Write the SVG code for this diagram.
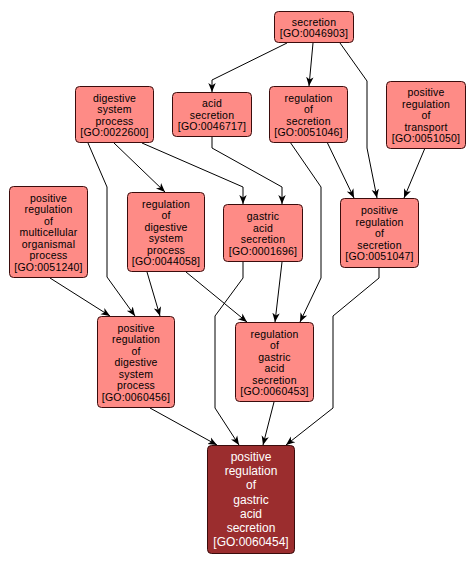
<svg xmlns="http://www.w3.org/2000/svg" width="474" height="566" viewBox="0 0 474 566">
<defs>
<marker id="arr" markerUnits="userSpaceOnUse" markerWidth="10" markerHeight="10" refX="9" refY="5" orient="auto">
<path d="M0,1.3 L9,5 L0,8.7 L2.5,5 z" fill="#000"/>
</marker>
<style>
.n rect{fill:#fe8b86;stroke:#3a0c0c;stroke-width:1}
.n text{font-family:"Liberation Sans",Arial,sans-serif;font-size:10.5px;fill:#000;text-anchor:middle;letter-spacing:0.2px}
.f rect{fill:#9b2d2e;stroke:#3a0c0c;stroke-width:1}
.f text{font-family:"Liberation Sans",Arial,sans-serif;font-size:12px;fill:#fff;text-anchor:middle}
#edges polyline{fill:none;stroke:#000;stroke-width:1;marker-end:url(#arr)}
</style>
</defs>
<rect width="474" height="566" fill="#fff"/>
<g id="edges">
<polyline points="287,43 212,80 212,92"/>
<polyline points="313,43 309,86"/>
<polyline points="340,43 367,81 367,148 377,198"/>
<polyline points="425,148 404,198"/>
<polyline points="327,142 354,198"/>
<polyline points="290,142 321,187 321,278 300,322"/>
<polyline points="212,136 212,148 282,187 282,204"/>
<polyline points="114,143 165,192"/>
<polyline points="142,143 243,187 243,204"/>
<polyline points="88,143 107,187 107,277 135,316"/>
<polyline points="50,278 110,316"/>
<polyline points="147,272 160,316"/>
<polyline points="186,272 247,322"/>
<polyline points="282,262 275,322"/>
<polyline points="243,262 243,278 215,316 215,408 239,445"/>
<polyline points="379,268 379,278 333,316 333,408 286,445"/>
<polyline points="274,402 263,445"/>
<polyline points="150,408 217,445"/>
</g>
<g id="GO0046903" class="n"><rect x="274.5" y="11.5" width="79" height="31" rx="4"/>
<text><tspan x="314" y="25.5">secretion</tspan><tspan x="314" y="37">[GO:0046903]</tspan></text></g>
<g id="GO0046717" class="n"><rect x="172.5" y="92.5" width="79" height="44" rx="4"/>
<text><tspan x="212" y="107.3">acid</tspan><tspan x="212" y="118.8">secretion</tspan><tspan x="212" y="130.3">[GO:0046717]</tspan></text></g>
<g id="GO0051046" class="n"><rect x="269.5" y="86.5" width="78" height="56" rx="4"/>
<text><tspan x="308.5" y="101.5">regulation</tspan><tspan x="308.5" y="113">of</tspan><tspan x="308.5" y="124.5">secretion</tspan><tspan x="308.5" y="136">[GO:0051046]</tspan></text></g>
<g id="GO0051050" class="n"><rect x="386.5" y="81.5" width="79" height="67" rx="4"/>
<text><tspan x="426" y="96.3">positive</tspan><tspan x="426" y="107.8">regulation</tspan><tspan x="426" y="119.3">of</tspan><tspan x="426" y="130.8">transport</tspan><tspan x="426" y="142.3">[GO:0051050]</tspan></text></g>
<g id="GO0022600" class="n"><rect x="75.5" y="86.5" width="78" height="56" rx="4"/>
<text><tspan x="114.5" y="101.5">digestive</tspan><tspan x="114.5" y="113">system</tspan><tspan x="114.5" y="124.5">process</tspan><tspan x="114.5" y="136">[GO:0022600]</tspan></text></g>
<g id="GO0051240" class="n"><rect x="9.5" y="186.5" width="78" height="91" rx="4"/>
<text><tspan x="48.5" y="201.8">positive</tspan><tspan x="48.5" y="213.3">regulation</tspan><tspan x="48.5" y="224.8">of</tspan><tspan x="48.5" y="236.3">multicellular</tspan><tspan x="48.5" y="247.8">organismal</tspan><tspan x="48.5" y="259.3">process</tspan><tspan x="48.5" y="270.8">[GO:0051240]</tspan></text></g>
<g id="GO0044058" class="n"><rect x="127.5" y="192.5" width="77" height="79" rx="4"/>
<text><tspan x="166" y="207.5">regulation</tspan><tspan x="166" y="219">of</tspan><tspan x="166" y="230.5">digestive</tspan><tspan x="166" y="242">system</tspan><tspan x="166" y="253.5">process</tspan><tspan x="166" y="265">[GO:0044058]</tspan></text></g>
<g id="GO0001696" class="n"><rect x="223.5" y="204.5" width="79" height="57" rx="4"/>
<text><tspan x="263" y="220">gastric</tspan><tspan x="263" y="231.5">acid</tspan><tspan x="263" y="243">secretion</tspan><tspan x="263" y="254.5">[GO:0001696]</tspan></text></g>
<g id="GO0051047" class="n"><rect x="340.5" y="198.5" width="78" height="69" rx="4"/>
<text><tspan x="379.5" y="214.3">positive</tspan><tspan x="379.5" y="225.8">regulation</tspan><tspan x="379.5" y="237.3">of</tspan><tspan x="379.5" y="248.8">secretion</tspan><tspan x="379.5" y="260.3">[GO:0051047]</tspan></text></g>
<g id="GO0060456" class="n"><rect x="97.5" y="316.5" width="77" height="91" rx="4"/>
<text><tspan x="136" y="331.8">positive</tspan><tspan x="136" y="343.3">regulation</tspan><tspan x="136" y="354.8">of</tspan><tspan x="136" y="366.3">digestive</tspan><tspan x="136" y="377.8">system</tspan><tspan x="136" y="389.3">process</tspan><tspan x="136" y="400.8">[GO:0060456]</tspan></text></g>
<g id="GO0060453" class="n"><rect x="235.5" y="322.5" width="78" height="79" rx="4"/>
<text><tspan x="274.5" y="337.5">regulation</tspan><tspan x="274.5" y="349">of</tspan><tspan x="274.5" y="360.5">gastric</tspan><tspan x="274.5" y="372">acid</tspan><tspan x="274.5" y="383.5">secretion</tspan><tspan x="274.5" y="395">[GO:0060453]</tspan></text></g>
<g id="GO0060454" class="f"><rect x="207.5" y="445.5" width="87" height="108" rx="4"/>
<text><tspan x="251" y="460.9">positive</tspan><tspan x="251" y="475.1">regulation</tspan><tspan x="251" y="489.3">of</tspan><tspan x="251" y="503.5">gastric</tspan><tspan x="251" y="517.7">acid</tspan><tspan x="251" y="531.9">secretion</tspan><tspan x="251" y="546.1">[GO:0060454]</tspan></text></g>
</svg>
